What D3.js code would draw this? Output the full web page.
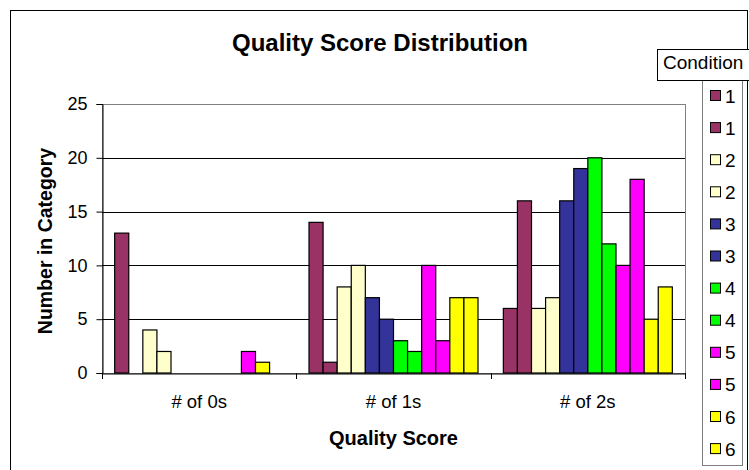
<!DOCTYPE html>
<html>
<head>
<meta charset="utf-8">
<script src="https://cdn.jsdelivr.net/npm/d3@7"></script>
<style>
  html, body { margin: 0; padding: 0; background: #fff; }
  svg { display: block; font-family: "Liberation Sans", Arial, sans-serif; }
</style>
</head>
<body>
<svg id="chart" width="749" height="470"></svg>
<script>
// Score categories along the x axis
const categories = ["# of 0s", "# of 1s", "# of 2s"];

// Two runs per condition, in legend order
const seriesNames = ["1", "1", "2", "2", "3", "3", "4", "4", "5", "5", "6", "6"];
const seriesColors = ["#993366", "#993366", "#FFFFCC", "#FFFFCC", "#333399", "#333399",
                      "#00FF00", "#00FF00", "#FF00FF", "#FF00FF", "#FFFF00", "#FFFF00"];

// Counts per series, one value per category
const cond1a = [13, 14, 6];
const cond1b = [0, 1, 16];
const cond2a = [4, 8, 6];
const cond2b = [2, 10, 7];
const cond3a = [0, 7, 16];
const cond3b = [0, 5, 19];
const cond4a = [0, 3, 20];
const cond4b = [0, 2, 12];
const cond5a = [0, 10, 10];
const cond5b = [2, 3, 18];
const cond6a = [1, 7, 5];
const cond6b = [0, 7, 8];

const yTicks = [0, 5, 10, 15, 20, 25];

const seriesValues = [cond1a, cond1b, cond2a, cond2b, cond3a, cond3b,
                      cond4a, cond4b, cond5a, cond5b, cond6a, cond6b];

const FONT = "Liberation Sans, Arial, sans-serif";
const svg = d3.select("#chart");

// Outer chart frame
svg.append("rect")
  .attr("x", 10.5).attr("y", 10.5)
  .attr("width", 737).attr("height", 470)
  .attr("fill", "#fff").attr("stroke", "#000").attr("stroke-width", 1);

const plot = { left: 102, right: 685, top: 104, bottom: 373 };

const x0 = d3.scaleBand()
  .domain(categories)
  .range([plot.left, plot.right])
  .paddingInner(0).paddingOuter(0);

const x1 = d3.scaleBand()
  .domain(d3.range(seriesNames.length))
  .range([0, x0.bandwidth()])
  .paddingInner(0)
  .paddingOuter(0.9);

const y = d3.scaleLinear().domain([0, 25]).range([plot.bottom, plot.top]);

// Plot area border (grey)
svg.append("rect")
  .attr("x", plot.left + 0.5).attr("y", plot.top + 0.5)
  .attr("width", plot.right - plot.left).attr("height", plot.bottom - plot.top)
  .attr("fill", "none").attr("stroke", "#808080").attr("stroke-width", 1);

// Horizontal gridlines
svg.append("g")
  .selectAll("line")
  .data(yTicks.filter(t => t > 0 && t < 25))
  .join("line")
  .attr("x1", plot.left).attr("x2", plot.right)
  .attr("y1", d => Math.round(y(d)) + 0.5).attr("y2", d => Math.round(y(d)) + 0.5)
  .attr("stroke", "#000").attr("stroke-width", 1);

// Bars
const groups = svg.append("g")
  .selectAll("g")
  .data(categories)
  .join("g")
  .attr("transform", d => `translate(${x0(d)},0)`);

groups.selectAll("rect")
  .data((c, ci) => seriesValues.map((vals, si) => ({ si, v: vals[ci] })))
  .join("rect")
  .filter(d => d.v > 0)
  .attr("x", d => x1(d.si))
  .attr("y", d => y(d.v))
  .attr("width", x1.bandwidth())
  .attr("height", d => y(0) - y(d.v))
  .attr("fill", d => seriesColors[d.si])
  .attr("stroke", "#000")
  .attr("stroke-width", 1.2);

// Y axis
const yAxis = d3.axisLeft(y).tickValues(yTicks).tickSize(6).tickPadding(9);
const gy = svg.append("g")
  .attr("transform", `translate(${plot.left + 0.5},0)`)
  .call(yAxis);
gy.select(".domain").attr("stroke", "#000");
gy.selectAll(".tick line").attr("stroke", "#000");
gy.selectAll(".tick text")
  .attr("font-size", 18).attr("fill", "#000")
  .attr("font-family", FONT);

// X axis with tick marks at category boundaries
const xAxis = d3.axisBottom(x0).tickSize(0).tickPadding(21);
const gx = svg.append("g")
  .attr("transform", `translate(0,${plot.bottom + 0.5})`)
  .call(xAxis);
gx.select(".domain").attr("stroke", "#000");
gx.selectAll(".tick text")
  .attr("font-size", 18.5).attr("fill", "#000")
  .attr("font-family", FONT);

svg.append("g")
  .selectAll("line")
  .data(categories.map(c => x0(c)).concat([plot.right]))
  .join("line")
  .attr("x1", d => Math.round(d) + 0.5).attr("x2", d => Math.round(d) + 0.5)
  .attr("y1", plot.bottom).attr("y2", plot.bottom + 6)
  .attr("stroke", "#000");

// Titles
svg.append("text")
  .attr("x", 380).attr("y", 51)
  .attr("text-anchor", "middle")
  .attr("font-size", 24).attr("font-weight", "bold")
  .text("Quality Score Distribution");

svg.append("text")
  .attr("x", (plot.left + plot.right) / 2).attr("y", 445)
  .attr("text-anchor", "middle")
  .attr("font-size", 20).attr("font-weight", "bold")
  .text("Quality Score");

svg.append("text")
  .attr("transform", `translate(52,241) rotate(-90)`)
  .attr("text-anchor", "middle")
  .attr("font-size", 19.5).attr("font-weight", "bold")
  .text("Number in Category");

// Legend
const legend = svg.append("g");
legend.append("rect")
  .attr("x", 702.5).attr("y", 80.5)
  .attr("width", 40).attr("height", 385)
  .attr("fill", "#fff").attr("stroke", "#808080");

legend.append("rect")
  .attr("x", 657.5).attr("y", 49.5)
  .attr("width", 95).attr("height", 31)
  .attr("fill", "#fff").attr("stroke", "#000");
legend.append("text")
  .attr("x", 663).attr("y", 69)
  .attr("font-size", 19)
  .text("Condition");

const items = legend.selectAll("g.item")
  .data(seriesNames)
  .join("g")
  .attr("class", "item")
  .attr("transform", (d, i) => `translate(0,${96 + i * 32.1})`);
items.append("rect")
  .attr("x", 710.5).attr("y", -5.5)
  .attr("width", 10).attr("height", 10)
  .attr("fill", (d, i) => seriesColors[i])
  .attr("stroke", "#000");
items.append("text")
  .attr("x", 725).attr("y", 6.5)
  .attr("font-size", 19)
  .text(d => d);
</script>
</body>
</html>
